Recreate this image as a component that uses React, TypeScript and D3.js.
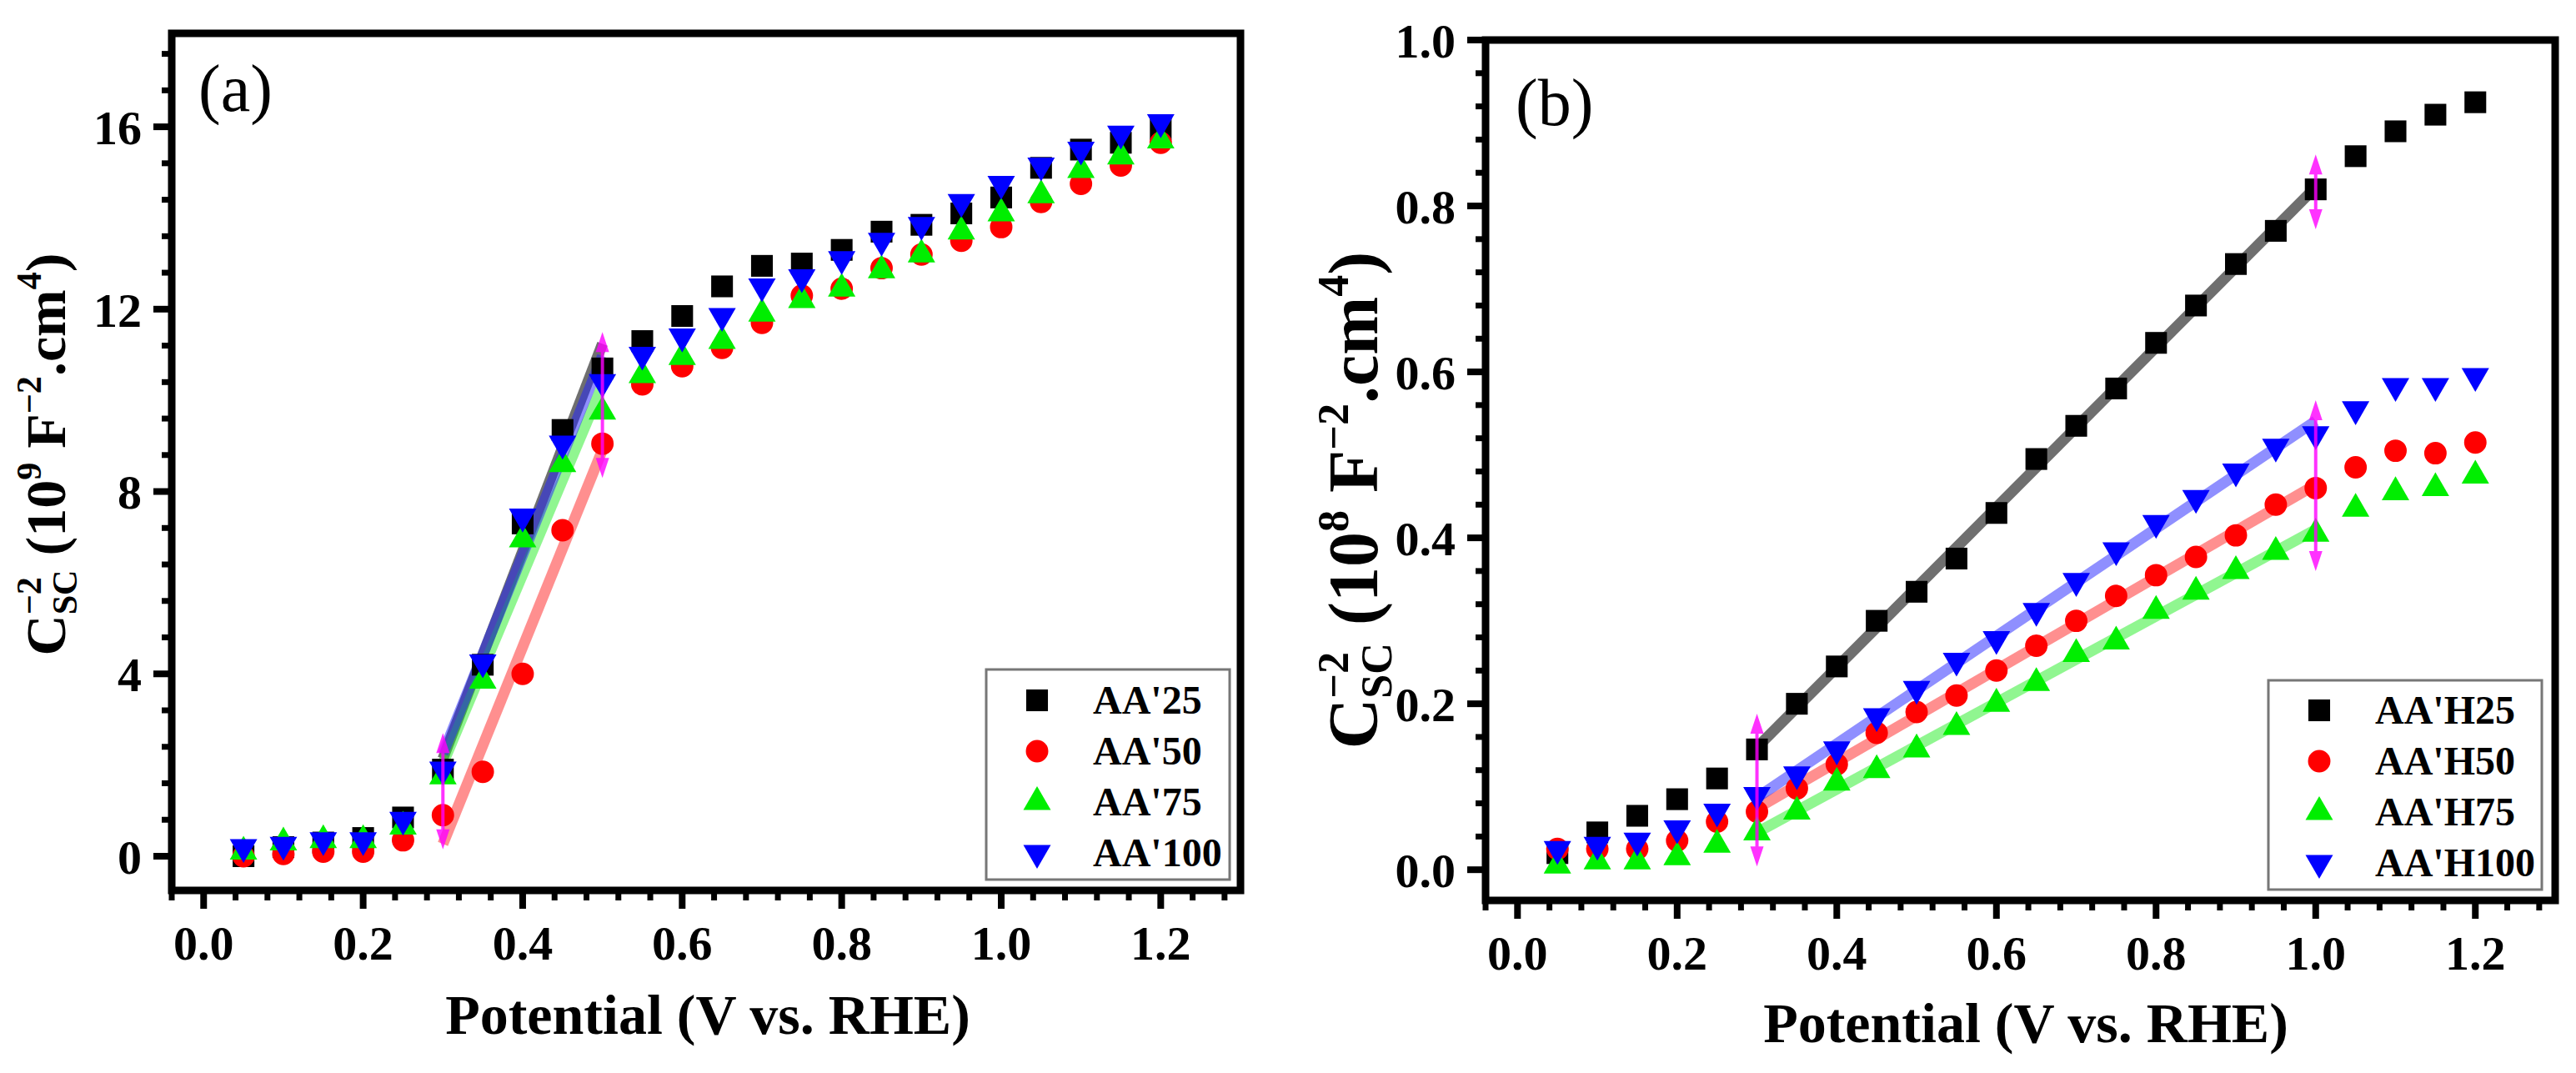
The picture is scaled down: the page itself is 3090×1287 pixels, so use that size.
import * as d3 from "d3";

const W = 3090;
const H = 1287;
const FONT = "'Liberation Serif', 'Times New Roman', serif";

// potentials (V vs. RHE)
const potentials = [
  0.05, 0.1, 0.15, 0.2, 0.25, 0.3, 0.35, 0.4, 0.45, 0.5, 0.55, 0.6, 0.65, 0.7,
  0.75, 0.8, 0.85, 0.9, 0.95, 1.0, 1.05, 1.1, 1.15, 1.2,
];

// panel (a), 10^9 F^-2 cm^4
const aa25 = [
  0.0, 0.2, 0.3, 0.4, 0.85, 1.9, 4.2, 7.3, 9.35, 10.7, 11.3, 11.85, 12.5, 12.95,
  13.0, 13.3, 13.7, 13.85, 14.1, 14.45, 15.1, 15.5, 15.65, 15.95,
];
const aa50 = [
  0.0, 0.05, 0.1, 0.1, 0.35, 0.9, 1.85, 4.0, 7.15, 9.05, 10.35, 10.75, 11.15,
  11.7, 12.3, 12.45, 12.9, 13.2, 13.5, 13.8, 14.35, 14.75, 15.15, 15.65,
];
const aa75 = [
  0.1, 0.3, 0.35, 0.35, 0.65, 1.75, 3.85, 6.95, 8.6, 9.75, 10.55, 10.95, 11.3,
  11.9, 12.2, 12.45, 12.85, 13.2, 13.7, 14.1, 14.5, 15.05, 15.35, 15.7,
];
const aa100 = [
  0.2, 0.25, 0.35, 0.35, 0.8, 1.9, 4.25, 7.45, 9.05, 10.4, 11.0, 11.4, 11.85,
  12.5, 12.7, 13.1, 13.5, 13.85, 14.35, 14.75, 15.15, 15.5, 15.85, 16.1,
];

// panel (b), 10^8 F^-2 cm^4
const ah25 = [
  0.02, 0.045, 0.065, 0.085, 0.11, 0.145, 0.2, 0.245, 0.3, 0.335, 0.375, 0.43,
  0.495, 0.535, 0.58, 0.635, 0.68, 0.73, 0.77, 0.82, 0.86, 0.89, 0.91, 0.925,
];
const ah50 = [
  0.025, 0.025, 0.025, 0.035, 0.058, 0.07, 0.098, 0.127, 0.165, 0.19, 0.21,
  0.24, 0.27, 0.3, 0.33, 0.355, 0.377, 0.403, 0.44, 0.46, 0.485, 0.505, 0.502,
  0.515,
];
const ah75 = [
  0.005, 0.01, 0.01, 0.015, 0.03, 0.045, 0.07, 0.105, 0.12, 0.145, 0.172, 0.2,
  0.225, 0.26, 0.275, 0.312, 0.335, 0.36, 0.383, 0.405, 0.435, 0.455, 0.46,
  0.475,
];
const ah100 = [
  0.025, 0.03, 0.035, 0.05, 0.07, 0.09, 0.115, 0.145, 0.185, 0.218, 0.252,
  0.278, 0.312, 0.348, 0.385, 0.418, 0.448, 0.48, 0.51, 0.525, 0.555, 0.583,
  0.583, 0.595,
];

const labelsA = ["AA'25", "AA'50", "AA'75", "AA'100"];
const labelsB = ["AA'H25", "AA'H50", "AA'H75", "AA'H100"];

const xTicks = [0, 0.2, 0.4, 0.6, 0.8, 1.0, 1.2];
const yTicksA = [0, 4, 8, 12, 16];
const yTicksB = [0, 0.2, 0.4, 0.6, 0.8, 1.0];

const fitRangeA = [0.3, 0.5];
const fitRangeB = [0.3, 1.0];

// magenta double arrows marking the fitted ranges: [x, yLow, yHigh]
const arrowsA = [
  [0.3, 0.15, 2.7],
  [0.5, 8.3, 11.5],
];
const arrowsB = [
  [0.3, 0.004, 0.188],
  [1.0, 0.36, 0.566],
  [1.0, 0.772, 0.862],
];

const COLORS = ["#000000", "#ff0000", "#00ee00", "#0000ff"];
const FIT_COLORS = ["#222222", "#ff2020", "#22ee22", "#2020ff"];
const FIT_OPACITY = [0.65, 0.5, 0.5, 0.5];

const shapes = [
  { type: d3.symbolSquare, size: 680, rot: 0 },
  { type: d3.symbolCircle, size: 570, rot: 0 },
  { type: d3.symbolTriangle, size: 470, rot: 0 },
  { type: d3.symbolTriangle, size: 470, rot: 180 },
];

function fit(xs: number[], ys: number[], range: number[]) {
  const pts = xs
    .map((x, i) => [x, ys[i]])
    .filter(([x]) => x >= range[0] - 1e-9 && x <= range[1] + 1e-9);
  const mx = d3.mean(pts, (p) => p[0])!;
  const my = d3.mean(pts, (p) => p[1])!;
  const sxy = d3.sum(pts, (p) => (p[0] - mx) * (p[1] - my));
  const sxx = d3.sum(pts, (p) => (p[0] - mx) ** 2);
  const b = sxy / sxx;
  const a = my - b * mx;
  return range.map((x) => [x, a + b * x]);
}

type PanelProps = {
  box: { left: number; top: number; right: number; bottom: number };
  yDomain: number[];
  yTicks: number[];
  yMinorStep: number;
  yFormat: (v: number) => string;
  series: number[][];
  labels: string[];
  fitRange: number[];
  arrows: number[][];
  legend: { x0: number; y0: number; x1: number; y1: number; rowY: number };
  tag: string;
  tagPos: number[];
  exp: string;
  yTitle: { x: number; y: number; size: number };
  xTitle: { x: number; y: number };
};

const YTitle = ({ x, y, size, exp }: { x: number; y: number; size: number; exp: string }) => {
  const s = size * 0.62;
  const up = size * 0.42;
  const down = size * 0.2;
  return (
    <text
      transform={`translate(${x},${y}) rotate(-90)`}
      textAnchor="middle"
      fontFamily={FONT}
      fontWeight="bold"
      fontSize={size}
      style={{ whiteSpace: "pre" }}
    >
      C
      <tspan fontSize={s} dy={-up}>−2</tspan>
      <tspan fontSize={s} dx={-s * 1.07} dy={up + down}>SC</tspan>
      <tspan dy={-down}> (10</tspan>
      <tspan fontSize={s} dy={-up}>{exp}</tspan>
      <tspan dy={up}> F</tspan>
      <tspan fontSize={s} dy={-up}>−2</tspan>
      <tspan dy={up}>.cm</tspan>
      <tspan fontSize={s} dy={-up}>4</tspan>
      <tspan dy={up}>)</tspan>
    </text>
  );
};

const Panel = (p: PanelProps) => {
  const { box } = p;
  const x = d3.scaleLinear().domain([-0.04, 1.3]).range([box.left, box.right]);
  const y = d3.scaleLinear().domain(p.yDomain).range([box.bottom, box.top]);

  const xMinor = d3
    .range(-0.04, 1.3, 0.04)
    .filter((v) => Math.abs(v / 0.2 - Math.round(v / 0.2)) > 0.01);
  const yMinor = d3
    .range(0, p.yDomain[1], p.yMinorStep)
    .concat(d3.range(-p.yMinorStep, p.yDomain[0], -p.yMinorStep))
    .filter((v) => {
      const major = p.yTicks[1] - p.yTicks[0];
      return Math.abs(v / major - Math.round(v / major)) > 0.01;
    });

  const line = d3
    .line<number[]>()
    .x((d) => x(d[0]))
    .y((d) => y(d[1]));

  const sym = d3.symbol();

  return (
    <g>
      {/* fitted lines */}
      {p.series.map((ys, i) => (
        <path
          key={`fit${i}`}
          d={line(fit(potentials, ys, p.fitRange))!}
          stroke={FIT_COLORS[i]}
          strokeOpacity={FIT_OPACITY[i]}
          strokeWidth={13}
          fill="none"
        />
      ))}
      {/* markers */}
      {p.series.map((ys, i) => (
        <g key={`s${i}`} fill={COLORS[i]}>
          {ys.map((v, j) => (
            <path
              key={j}
              d={sym.type(shapes[i].type).size(shapes[i].size)()!}
              transform={`translate(${x(potentials[j])},${y(v)}) rotate(${shapes[i].rot})`}
            />
          ))}
        </g>
      ))}
      {/* range arrows */}
      {p.arrows.map(([ax, lo, hi], i) => {
        const px = x(ax);
        const y0 = y(lo);
        const y1 = y(hi);
        const hw = 8;
        const hh = 24;
        return (
          <g key={`a${i}`} fill="#ff00ff" stroke="#ff00ff" opacity={0.8}>
            <line x1={px} x2={px} y1={y1 + hh - 4} y2={y0 - hh + 4} strokeWidth={4} />
            <path d={`M${px},${y1}L${px - hw},${y1 + hh}L${px + hw},${y1 + hh}Z`} stroke="none" />
            <path d={`M${px},${y0}L${px - hw},${y0 - hh}L${px + hw},${y0 - hh}Z`} stroke="none" />
          </g>
        );
      })}

      {/* frame */}
      <rect
        x={box.left}
        y={box.top}
        width={box.right - box.left}
        height={box.bottom - box.top}
        fill="none"
        stroke="#000"
        strokeWidth={9}
      />

      {/* x ticks */}
      {xTicks.map((v) => (
        <g key={`xt${v}`}>
          <line x1={x(v)} x2={x(v)} y1={box.bottom} y2={box.bottom + 22} stroke="#000" strokeWidth={8} />
          <text
            x={x(v)}
            y={box.bottom + 83}
            textAnchor="middle"
            fontFamily={FONT}
            fontWeight="bold"
            fontSize={58}
          >
            {v.toFixed(1)}
          </text>
        </g>
      ))}
      {xMinor.map((v, i) => (
        <line key={`xm${i}`} x1={x(v)} x2={x(v)} y1={box.bottom} y2={box.bottom + 12} stroke="#000" strokeWidth={7} />
      ))}

      {/* y ticks */}
      {p.yTicks.map((v) => (
        <g key={`yt${v}`}>
          <line x1={box.left - 22} x2={box.left} y1={y(v)} y2={y(v)} stroke="#000" strokeWidth={8} />
          <text
            x={box.left - 36}
            y={y(v)}
            dy="0.36em"
            textAnchor="end"
            fontFamily={FONT}
            fontWeight="bold"
            fontSize={58}
          >
            {p.yFormat(v)}
          </text>
        </g>
      ))}
      {yMinor.map((v, i) => (
        <line key={`ym${i}`} x1={box.left - 12} x2={box.left} y1={y(v)} y2={y(v)} stroke="#000" strokeWidth={7} />
      ))}

      {/* panel tag */}
      <text x={p.tagPos[0]} y={p.tagPos[1]} fontFamily={FONT} fontSize={80}>
        {p.tag}
      </text>

      {/* legend */}
      <rect
        x={p.legend.x0}
        y={p.legend.y0}
        width={p.legend.x1 - p.legend.x0}
        height={p.legend.y1 - p.legend.y0}
        fill="#fff"
        stroke="#777"
        strokeWidth={3}
      />
      {p.labels.map((lab, i) => {
        const ry = p.legend.rowY + i * 61;
        return (
          <g key={lab}>
            <path
              d={sym.type(shapes[i].type).size(shapes[i].size)()!}
              transform={`translate(${p.legend.x0 + 61},${ry}) rotate(${shapes[i].rot})`}
              fill={COLORS[i]}
            />
            <text
              x={p.legend.x0 + 128}
              y={ry}
              dy="0.34em"
              fontFamily={FONT}
              fontWeight="bold"
              fontSize={48}
            >
              {lab}
            </text>
          </g>
        );
      })}

      {/* axis titles */}
      <text
        x={p.xTitle.x}
        y={p.xTitle.y}
        textAnchor="middle"
        fontFamily={FONT}
        fontWeight="bold"
        fontSize={68}
      >
        Potential (V vs. RHE)
      </text>
      <YTitle x={p.yTitle.x} y={p.yTitle.y} size={p.yTitle.size} exp={p.exp} />
    </g>
  );
};

export default function App() {
  return (
    <svg
      width={W}
      height={H}
      viewBox={`0 0 ${W} ${H}`}
      style={{ position: "absolute", left: 0, top: 0, background: "#fff" }}
    >
      <rect width={W} height={H} fill="#fff" />
      <Panel
        box={{ left: 206, top: 40, right: 1488, bottom: 1068 }}
        yDomain={[-0.75, 18.05]}
        yTicks={yTicksA}
        yMinorStep={0.8}
        yFormat={(v) => String(v)}
        series={[aa25, aa50, aa75, aa100]}
        labels={labelsA}
        fitRange={fitRangeA}
        arrows={arrowsA}
        legend={{ x0: 1183, y0: 803, x1: 1475, y1: 1055, rowY: 840 }}
        tag="(a)"
        tagPos={[238, 133]}
        exp="9"
        yTitle={{ x: 78, y: 545, size: 68 }}
        xTitle={{ x: 849, y: 1240 }}
      />
      <Panel
        box={{ left: 1782, top: 48, right: 3065, bottom: 1080 }}
        yDomain={[-0.037, 1.0]}
        yTicks={yTicksB}
        yMinorStep={0.04}
        yFormat={(v) => v.toFixed(1)}
        series={[ah25, ah50, ah75, ah100]}
        labels={labelsB}
        fitRange={fitRangeB}
        arrows={arrowsB}
        legend={{ x0: 2721, y0: 816, x1: 3049, y1: 1067, rowY: 852 }}
        tag="(b)"
        tagPos={[1818, 150]}
        exp="8"
        yTitle={{ x: 1652, y: 600, size: 84 }}
        xTitle={{ x: 2430, y: 1250 }}
      />
    </svg>
  );
}
